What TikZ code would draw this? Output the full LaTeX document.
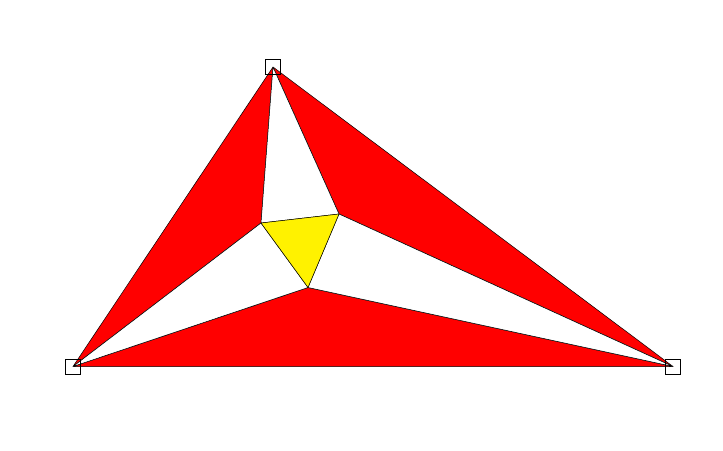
\documentclass[tikz,border=0pt]{standalone}
\usetikzlibrary{positioning}

\tikzset{
  outer/.style={fill=red, draw=black, line width=0.5pt, line join=round},
  side/.style={fill=white, draw=black, line width=0.5pt, line join=round},
  inner/.style={fill=yellow, draw=black, line width=0.5pt, line join=round},
  handle/.style={draw=black, line width=0.6pt, minimum size=15pt, inner sep=0pt}
}

\begin{document}
\begin{tikzpicture}[x=1pt,y=-1pt]
\useasboundingbox (0,0) rectangle (723,450);

% =====================
% Vertici
% =====================
\coordinate (A) at (73,366.5);
\coordinate (B) at (273,67);
\coordinate (C) at (673,366.5);

\coordinate (P) at (261,223);
\coordinate (Q) at (339,214);
\coordinate (R) at (308,287.5);

% =====================
% Regioni rosse
% =====================
\draw[outer] (A) -- (B) -- (P) -- cycle;
\draw[outer] (B) -- (C) -- (Q) -- cycle;
\draw[outer] (A) -- (C) -- (R) -- cycle;

% =====================
% Regioni bianche
% =====================
\draw[side] (B) -- (P) -- (Q) -- cycle;
\draw[side] (A) -- (P) -- (R) -- cycle;
\draw[side] (C) -- (Q) -- (R) -- cycle;

% =====================
% Triangolo interno
% =====================
\draw[inner] (P) -- (Q) -- (R) -- cycle;

% =====================
% Quadratini
% =====================
\node[handle] (a) at (A) {};
\node[handle] (b) at (B) {};
\node[handle] (c) at (C) {};

\end{tikzpicture}
\end{document}
